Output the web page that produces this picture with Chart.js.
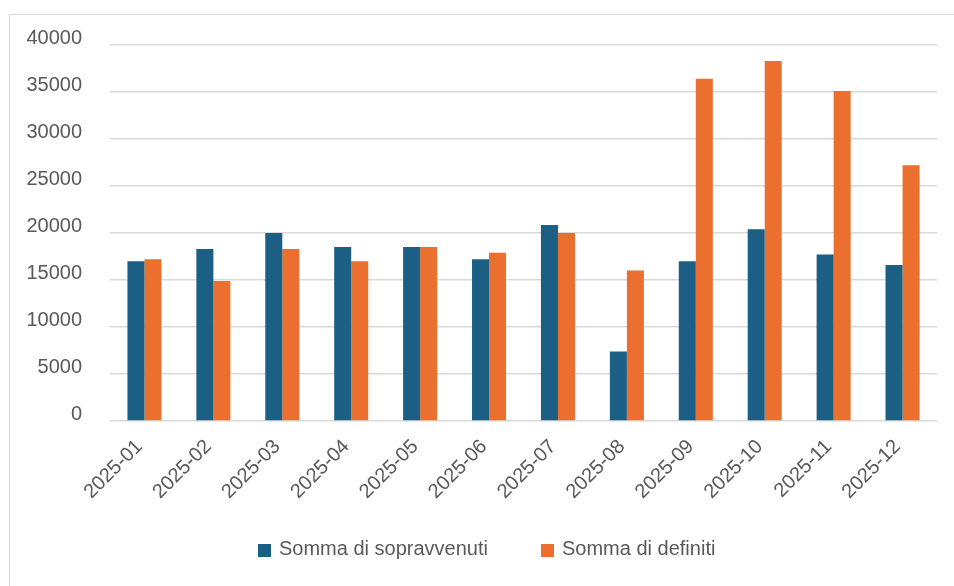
<!DOCTYPE html>
<html>
<head>
<meta charset="utf-8">
<script src="https://cdn.jsdelivr.net/npm/chart.js@4/dist/chart.umd.min.js"></script>
<style>
  html, body { margin: 0; padding: 0; background: #fff; }
  #wrap { position: relative; width: 954px; height: 586px; overflow: hidden; }
  #frame { position: absolute; left: 9px; top: 14px; width: 1000px; height: 1000px;
           border-left: 1px solid #d9d9d9; border-top: 1px solid #d9d9d9; box-sizing: border-box; }
  canvas { position: absolute; left: 0; top: 0; }
  #legend { position: absolute; left: 258px; top: 537px; display: flex; align-items: center;
            font-family: "Liberation Sans", Arial, sans-serif; font-size: 20px; color: #595959; }
  .item { display: flex; align-items: center; }
  .sw { width: 13px; height: 13px; margin-right: 8px; margin-top: 3px; }
</style>
</head>
<body>
<div id="wrap">
  <div id="frame"></div>
  <canvas id="c" width="954" height="586"></canvas>
  <div id="legend"></div>
</div>
<script>
const categories = ['2025-01','2025-02','2025-03','2025-04','2025-05','2025-06','2025-07','2025-08','2025-09','2025-10','2025-11','2025-12'];
const sopravvenuti = [17000, 18300, 20000, 18500, 18500, 17200, 20850, 7400, 17000, 20400, 17700, 16600];
const definiti = [17200, 14900, 18300, 17000, 18500, 17900, 20000, 16000, 36400, 38300, 35100, 27200];
const seriesNames = ['Somma di sopravvenuti', 'Somma di definiti'];
const seriesColors = ['#1c5f84', '#eb6f2f'];
const yTicks = { min: 0, max: 40000, step: 5000 };

const font = { family: '"Liberation Sans", Arial, sans-serif', size: 20 };
const textColor = '#595959';

new Chart(document.getElementById('c'), {
  type: 'bar',
  data: {
    labels: categories,
    datasets: [
      { label: seriesNames[0], data: sopravvenuti, backgroundColor: seriesColors[0], categoryPercentage: 0.494, barPercentage: 1 },
      { label: seriesNames[1], data: definiti, backgroundColor: seriesColors[1], categoryPercentage: 0.494, barPercentage: 1 }
    ]
  },
  options: {
    responsive: false,
    animation: false,
    layout: { padding: { left: 0, right: 17, top: 45, bottom: 0 } },
    plugins: { legend: { display: false }, tooltip: { enabled: false } },
    scales: {
      x: {
        grid: { display: false, drawTicks: false },
        border: { display: false },
        ticks: { font: font, color: textColor, maxRotation: 45, minRotation: 45, padding: 14, labelOffset: -5 },
        afterFit: s => { s.height = 165; }
      },
      y: {
        min: yTicks.min, max: yTicks.max,
        grid: { color: '#d9d9d9', lineWidth: 1.5, drawTicks: false },
        border: { display: false },
        ticks: { stepSize: yTicks.step, font: font, color: textColor, padding: 28, labelOffset: -7,
                 callback: v => String(v) },
        afterFit: s => { s.width = 110; }
      }
    }
  }
});

const legend = document.getElementById('legend');
seriesNames.forEach((n, i) => {
  const it = document.createElement('div');
  it.className = 'item';
  if (i > 0) it.style.marginLeft = '53px';
  const sw = document.createElement('span');
  sw.className = 'sw';
  sw.style.background = seriesColors[i];
  const tx = document.createElement('span');
  tx.textContent = n;
  it.appendChild(sw); it.appendChild(tx);
  legend.appendChild(it);
});
</script>
</body>
</html>
